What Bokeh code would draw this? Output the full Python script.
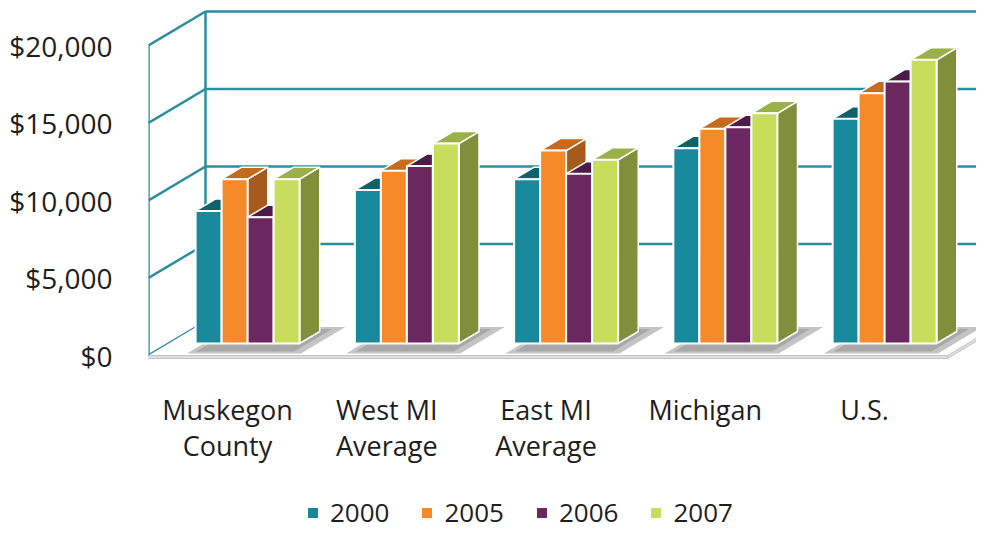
from bokeh.plotting import figure
from bokeh.models import Range1d, FixedTicker, NumeralTickFormatter, Legend, LegendItem
from bokeh.embed import file_html
from bokeh.resources import INLINE
from bokeh.core.properties import value

# ---------------- data ----------------
categories = ["Muskegon\nCounty", "West MI\nAverage", "East MI\nAverage", "Michigan", "U.S."]
years = ["2000", "2005", "2006", "2007"]
values_2000 = [8550, 9900, 10600, 12600, 14500]
values_2005 = [10600, 11150, 12450, 13850, 16150]
values_2006 = [8150, 11450, 10950, 13950, 16900]
values_2007 = [10600, 12900, 11850, 14850, 18300]
y_ticks = [0, 5000, 10000, 15000, 20000]

series = [values_2000, values_2005, values_2006, values_2007]
front_colors = ["#17899a", "#f68a2b", "#6b2760", "#c9dd5c"]
top_colors = ["#0e626d", "#c56a1e", "#4e1a47", "#9cb049"]
side_colors = ["#0b5560", "#a65a1b", "#4a1743", "#818e3a"]
grid_color = "#2a8e9e"
FONT = "Open Sans"

# ---------------- layout (pixels) ----------------
W, H = 976, 530
LEFT = 148                      # frame left border
ZERO_FROM_TOP = 355             # pixel row of value 0 (front plane)
PX_PER_UNIT = 15.5 / 1000.0
DEPTH_DX = 57.0
DEPTH_DY = 34.0
DV = DEPTH_DY / PX_PER_UNIT
BAR_FRONT_D = 12.0 / 34.0
BAR_BACK_D = 24.0 / 34.0
GROUP_X0 = 27.0
GROUP_STEP = 159.25
BAR_W = 26.0
FLOOR_W = 799.0
FLOOR_T = 3.0 / PX_PER_UNIT


def proj(x, v, d):
    return x + DEPTH_DX * d, v + DV * d


def poly(points):
    xs, ys = [], []
    for (x, v, d) in points:
        px, pv = proj(x, v, d)
        xs.append(px)
        ys.append(pv)
    return xs, ys


y_end = ZERO_FROM_TOP / PX_PER_UNIT
y_start = -(H - ZERO_FROM_TOP) / PX_PER_UNIT

p = figure(width=W, height=H, x_range=Range1d(0, W - LEFT), y_range=Range1d(y_start, y_end),
           output_backend="svg", toolbar_location=None, x_axis_location=None,
           min_border_left=LEFT, min_border_right=0, min_border_top=0, min_border_bottom=0)
p.grid.visible = False
p.outline_line_color = None
p.background_fill_color = "white"

ax = p.yaxis[0]
ax.ticker = FixedTicker(ticks=y_ticks)
ax.formatter = NumeralTickFormatter(format="$0,0")
ax.axis_line_color = None
ax.major_tick_line_color = None
ax.minor_tick_line_color = None
ax.major_label_text_font = FONT
ax.major_label_text_font_size = "28px"
ax.major_label_text_color = "#1e1e1e"
ax.major_label_standoff = 30

# ---------------- walls & grid ----------------
far_right = W
back_x, back_y, left_x, left_y = [], [], [], []
for t in y_ticks:
    x0, v0 = proj(0, t, 1)
    back_x.append([x0, far_right])
    back_y.append([v0, v0])
    a = proj(0, t, 0)
    b = proj(0, t, 1)
    left_x.append([a[0], b[0]])
    left_y.append([a[1], b[1]])
p.multi_line(back_x, back_y, line_color=grid_color, line_width=2.5)
p.multi_line(left_x, left_y, line_color=grid_color, line_width=2.5)
vx, vy = poly([(0, y_ticks[0], 1), (0, y_ticks[-1], 1)])
p.line(vx, vy, line_color=grid_color, line_width=2.5)
vx, vy = poly([(0, y_ticks[0], 0), (0, y_ticks[-1], 0)])
p.line(vx, vy, line_color=grid_color, line_width=2.5)

# ---------------- floor ----------------
fx, fy = poly([(0, 0, 0), (FLOOR_W, 0, 0), (FLOOR_W, 0, 1.3), (0, 0, 1.0)])
p.patch(fx, fy, fill_color="white", line_color=None)
sx, sy = poly([(0, 0, 0), (FLOOR_W, 0, 0), (FLOOR_W, -FLOOR_T, 0), (0, -FLOOR_T, 0)])
p.patch(sx, sy, fill_color="#dedede", line_color="#c4c4c4", line_width=1)
sx, sy = poly([(FLOOR_W, 0, 0), (FLOOR_W, 0, 1.3), (FLOOR_W, -FLOOR_T, 1.3), (FLOOR_W, -FLOOR_T, 0)])
p.patch(sx, sy, fill_color="#dedede", line_color="#c4c4c4", line_width=1)

# shadows under each group
shx, shy, sh2x, sh2y = [], [], [], []
for i in range(len(categories)):
    g0 = GROUP_X0 + i * GROUP_STEP
    a, b = poly([(g0 + 8, 0, 0.06), (g0 + 122, 0, 0.06), (g0 + 122, 0, 0.84), (g0 + 8, 0, 0.84)])
    shx.append(a)
    shy.append(b)
    a, b = poly([(g0 + 14, 0, 0.12), (g0 + 112, 0, 0.12), (g0 + 112, 0, 0.78), (g0 + 14, 0, 0.78)])
    sh2x.append(a)
    sh2y.append(b)
p.patches(shx, shy, fill_color="#c4c4c4", line_color=None)
p.patches(sh2x, sh2y, fill_color="#a8a8a8", line_color=None)

# ---------------- bars ----------------
side_layers, top_layers, front_layers = [], [], []
for j, vals in enumerate(series):
    sxs, sys_, txs, tys = [], [], [], []
    left, right, bottom, top = [], [], [], []
    for i, v in enumerate(vals):
        x0 = GROUP_X0 + i * GROUP_STEP + j * BAR_W
        x1 = x0 + BAR_W
        a, b = poly([(x1, 0, BAR_FRONT_D), (x1, v, BAR_FRONT_D), (x1, v, BAR_BACK_D), (x1, 0, BAR_BACK_D)])
        sxs.append(a)
        sys_.append(b)
        a, b = poly([(x0, v, BAR_FRONT_D), (x1, v, BAR_FRONT_D), (x1, v, BAR_BACK_D), (x0, v, BAR_BACK_D)])
        txs.append(a)
        tys.append(b)
        lx, lb = proj(x0, 0, BAR_FRONT_D)
        rx, lt = proj(x1, v, BAR_FRONT_D)
        left.append(lx)
        right.append(rx)
        bottom.append(lb)
        top.append(lt)
    side_layers.append((sxs, sys_))
    top_layers.append((txs, tys))
    front_layers.append((left, right, bottom, top))

for j, (a, b) in enumerate(side_layers):
    p.patches(a, b, fill_color=side_colors[j], line_color="white", line_width=1.5)
for j, (a, b) in enumerate(top_layers):
    p.patches(a, b, fill_color=top_colors[j], line_color="white", line_width=1.5)
front_renderers = []
for j, (l, r, bt, tp) in enumerate(front_layers):
    rr = p.quad(left=l, right=r, bottom=bt, top=tp, fill_color=front_colors[j],
                line_color="white", line_width=2)
    front_renderers.append(rr)

# ---------------- category labels ----------------
rows = [c.split("\n") for c in categories]
centers = [GROUP_X0 + i * GROUP_STEP + 2 * BAR_W for i in range(len(categories))]
row1 = [r[0] for r in rows]
row2 = [r[1] if len(r) > 1 else "" for r in rows]
p.text(x=centers, y=[-54 / PX_PER_UNIT] * len(centers), text=row1, text_font=value(FONT),
       text_font_size="27px", text_align="center", text_baseline="middle", text_color="#1e1e1e")
p.text(x=centers, y=[-90 / PX_PER_UNIT] * len(centers), text=row2, text_font=value(FONT),
       text_font_size="27px", text_align="center", text_baseline="middle", text_color="#1e1e1e")

# ---------------- legend ----------------
legend = Legend(items=[LegendItem(label=y, renderers=[front_renderers[k]]) for k, y in enumerate(years)],
                orientation="horizontal", location=(157, 0),
                glyph_width=15, glyph_height=15, label_standoff=10, spacing=30,
                padding=0, margin=0, border_line_color=None, background_fill_alpha=0,
                label_text_font=FONT, label_text_font_size="26px", label_text_color="#1e1e1e")
p.add_layout(legend)

open("out.html", "w").write(file_html(p, INLINE))
